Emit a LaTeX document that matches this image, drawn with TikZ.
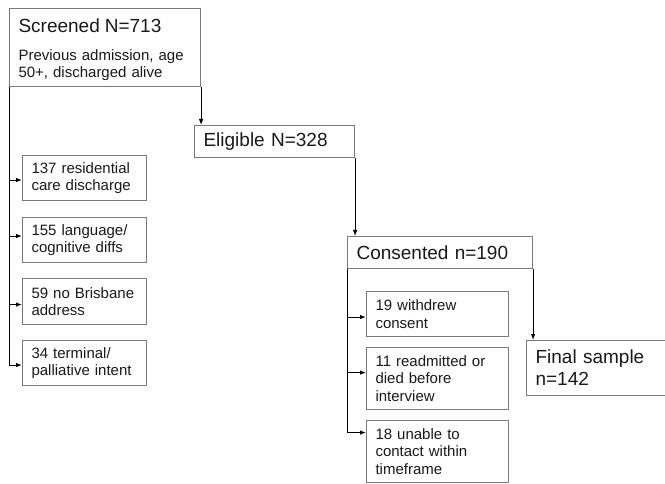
\documentclass[tikz,border=0pt]{standalone}
\usepackage{fontspec}
\setmainfont{Liberation Sans}
\usetikzlibrary{arrows.meta}
\definecolor{boxgray}{HTML}{7A7A7A}
\newcommand*{\bigtxt}{\fontsize{19}{22}\selectfont}
\newcommand*{\smalltxt}{\fontsize{15}{17.5}\selectfont}
\tikzset{
    box/.style  = {draw=boxgray, line width=1.1pt, anchor=north west, align=left,
                   inner xsep=9pt, inner ysep=0pt, text=black!90, font=\smalltxt},
    flow/.style = {draw=black, line width=0.9pt, -{Latex[length=6pt,width=4.5pt]}}
}

\begin{document}
\begin{tikzpicture}[x=1pt, y=-1pt]
    \clip (0,0) rectangle (665,484);
        \node [box, text width=173pt, minimum width=191pt, minimum height=78pt] (scr) at (9,8)
            {{\bigtxt\rule{0pt}{19pt}Screened N=713}\\[14pt]\fontsize{15}{13.5}\selectfont Previous admission, age\\50+, discharged alive};
        \node [box, text width=142pt, minimum width=160pt, minimum height=32pt, font=\bigtxt] (elig) at (194,125) {Eligible N=328};
        \node [box, text width=167pt, minimum width=185pt, minimum height=32pt, font=\bigtxt] (cons) at (347,236) {Consented n=190};
        \node [box, text width=123pt, minimum width=141pt, minimum height=55pt, font=\bigtxt] (fin)  at (526,340) {Final sample\\n=142};
        % excluded before eligibility
        \node [box, text width=106pt, minimum width=124pt, minimum height=45pt] (ex1) at (22,155) {137 residential\\care discharge};
        \node [box, text width=106pt, minimum width=124pt, minimum height=45pt] (ex2) at (22,217) {155 language/\\cognitive diffs};
        \node [box, text width=106pt, minimum width=124pt, minimum height=46pt] (ex3) at (22,278) {59 no Brisbane\\address};
        \node [box, text width=106pt, minimum width=124pt, minimum height=45pt] (ex4) at (22,340) {34 terminal/\\palliative intent};
        % lost after consent
        \node [box, text width=124pt, minimum width=142pt, minimum height=45pt] (ls1) at (366,291) {19 withdrew\\consent};
        \node [box, text width=124pt, minimum width=142pt, minimum height=62pt] (ls2) at (366,347) {11 readmitted or\\died before\\interview};
        \node [box, text width=124pt, minimum width=142pt, minimum height=62pt] (ls3) at (366,420) {18 unable to\\contact within\\timeframe};
        % connectors
        \draw [flow] (scr.south east)  -- (scr.south east |- elig.north);
        \draw [flow] (elig.south east) -- (elig.south east |- cons.north);
        \draw [flow] (cons.south east) -- (cons.south east |- fin.north);
        \draw [flow] (scr.south west) |- ([yshift=-2pt]ex1.west);
        \draw [flow] (scr.south west) |- ([yshift=4pt]ex2.west);
        \draw [flow] (scr.south west) |- ([yshift=-3pt]ex3.west);
        \draw [flow] (scr.south west) |- ([yshift=-2pt]ex4.west);
        \draw [flow] (cons.south west) |- ([yshift=-3pt]ls1.west);
        \draw [flow] (cons.south west) |- ([yshift=6pt]ls2.west);
        \draw [flow] (cons.south west) |- ([yshift=19pt]ls3.west);
    \end{tikzpicture}
\end{document}
